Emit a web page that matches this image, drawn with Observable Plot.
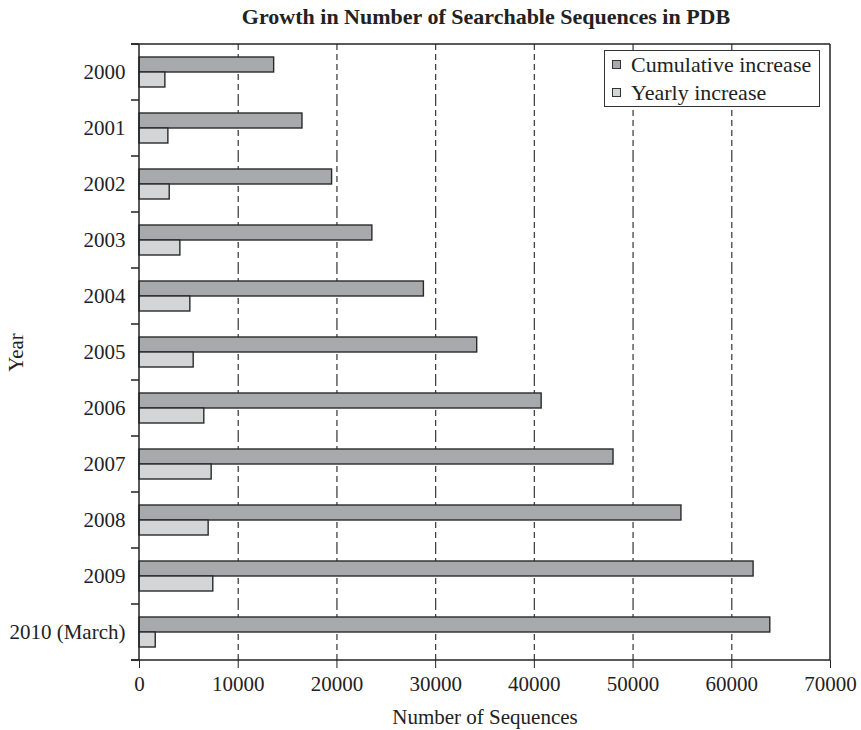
<!DOCTYPE html>
<html>
<head>
<meta charset="utf-8">
<script src="https://cdn.jsdelivr.net/npm/d3@7"></script>
<script src="https://cdn.jsdelivr.net/npm/@observablehq/plot@0.6"></script>
<style>
  html, body { margin: 0; padding: 0; background: #fff; }
  #wrap { position: relative; width: 861px; height: 730px; font-family: "Liberation Serif", "DejaVu Serif", serif; color: #222; }
  #title { position: absolute; left: 139px; width: 694px; top: 4px; text-align: center; font-weight: bold; font-size: 22px; }
  #legend { position: absolute; left: 604px; top: 50px; width: 214px; height: 55px; border: 1.3px solid #333; background: #fff; font-size: 22px; }
  .row { position: absolute; left: 7px; display: flex; align-items: center; line-height: 25px; }
  .sw { width: 7px; height: 7px; border: 1.2px solid #333; margin-right: 10px; }
</style>
</head>
<body>
<div id="wrap">
  <div id="chart"></div>
  <div id="title">Growth in Number of Searchable Sequences in PDB</div>
  <div id="legend"></div>
</div>
<script>
const years = ["2000", "2001", "2002", "2003", "2004", "2005", "2006", "2007", "2008", "2009", "2010 (March)"];
const cumulative = [13640, 16510, 19510, 23590, 28810, 34210, 40740, 48020, 54900, 62210, 63900];
const yearly = [2620, 2925, 3060, 4140, 5150, 5490, 6565, 7310, 7005, 7475, 1645];
const seriesNames = ["Cumulative increase", "Yearly increase"];
const seriesColors = ["#a8a9ac", "#d4d5d7"];
const xTicks = [0, 10000, 20000, 30000, 40000, 50000, 60000, 70000];
const gridValues = [10000, 20000, 30000, 40000, 50000, 60000];

(function () {
  const table = years.flatMap((y, i) => [
    {year: y, series: seriesNames[0], value: cumulative[i]},
    {year: y, series: seriesNames[1], value: yearly[i]}
  ]);

  const plot = Plot.plot({
    width: 861,
    height: 730,
    marginTop: 40,
    marginBottom: 66,
    marginLeft: 139,
    marginRight: 31,
    style: {fontFamily: "'Liberation Serif', 'DejaVu Serif', serif", fontSize: "21px", color: "#222", background: "white", overflow: "visible"},
    x: {domain: [0, 70000], ticks: xTicks, tickSize: 8, tickPadding: 8, tickFormat: d => String(d),
        label: "Number of Sequences", labelAnchor: "center", labelOffset: 63, labelArrow: "none"},
    y: {domain: seriesNames, paddingInner: 0, paddingOuter: 0.8, axis: null},
    fy: {domain: years, padding: 0, label: "Year", labelAnchor: "center", labelOffset: 131, tickSize: 0, tickPadding: 14},
    color: {domain: seriesNames, range: seriesColors},
    marks: [
      Plot.ruleX(gridValues, {stroke: "#444", strokeWidth: 1.3, strokeDasharray: "6,4"}),
      Plot.barX(table, {x: "value", y: "series", fy: "year", fill: "series", stroke: "#2a2a2a", strokeWidth: 1.4})
    ]
  });
  document.getElementById("chart").appendChild(plot);

  // frame lines and boundary ticks using the plot's scales
  const svg = d3.select(plot.tagName.toLowerCase() === "svg" ? plot : plot.querySelector("svg"));
  const xs = plot.scale("x"), fys = plot.scale("fy");
  const x0 = xs.apply(0), x1 = xs.apply(70000);
  const bounds = years.map(v => fys.apply(v));
  bounds.push(fys.apply(years[years.length - 1]) + fys.bandwidth);
  const yTop = bounds[0], yBottom = bounds[bounds.length - 1];
  const g = svg.append("g").attr("stroke", "#222").attr("stroke-width", 1.5).attr("fill", "none");
  g.append("line").attr("x1", x0 - 8).attr("x2", x1).attr("y1", yTop).attr("y2", yTop);
  g.append("line").attr("x1", x0 - 8).attr("x2", x1).attr("y1", yBottom).attr("y2", yBottom);
  g.append("line").attr("x1", x0).attr("x2", x0).attr("y1", yTop).attr("y2", yBottom);
  g.append("line").attr("x1", x1).attr("x2", x1).attr("y1", yTop).attr("y2", yBottom);
  bounds.forEach(b => g.append("line").attr("x1", x0 - 8).attr("x2", x0).attr("y1", b).attr("y2", b));

  // legend
  const leg = document.getElementById("legend");
  seriesNames.forEach((name, i) => {
    const row = document.createElement("div");
    row.className = "row";
    row.style.top = (0.5 + i * 28.7) + "px";
    const sw = document.createElement("div");
    sw.className = "sw";
    sw.style.background = seriesColors[i];
    const t = document.createElement("span");
    t.textContent = name;
    row.appendChild(sw); row.appendChild(t);
    leg.appendChild(row);
  });
})();
</script>
</body>
</html>
